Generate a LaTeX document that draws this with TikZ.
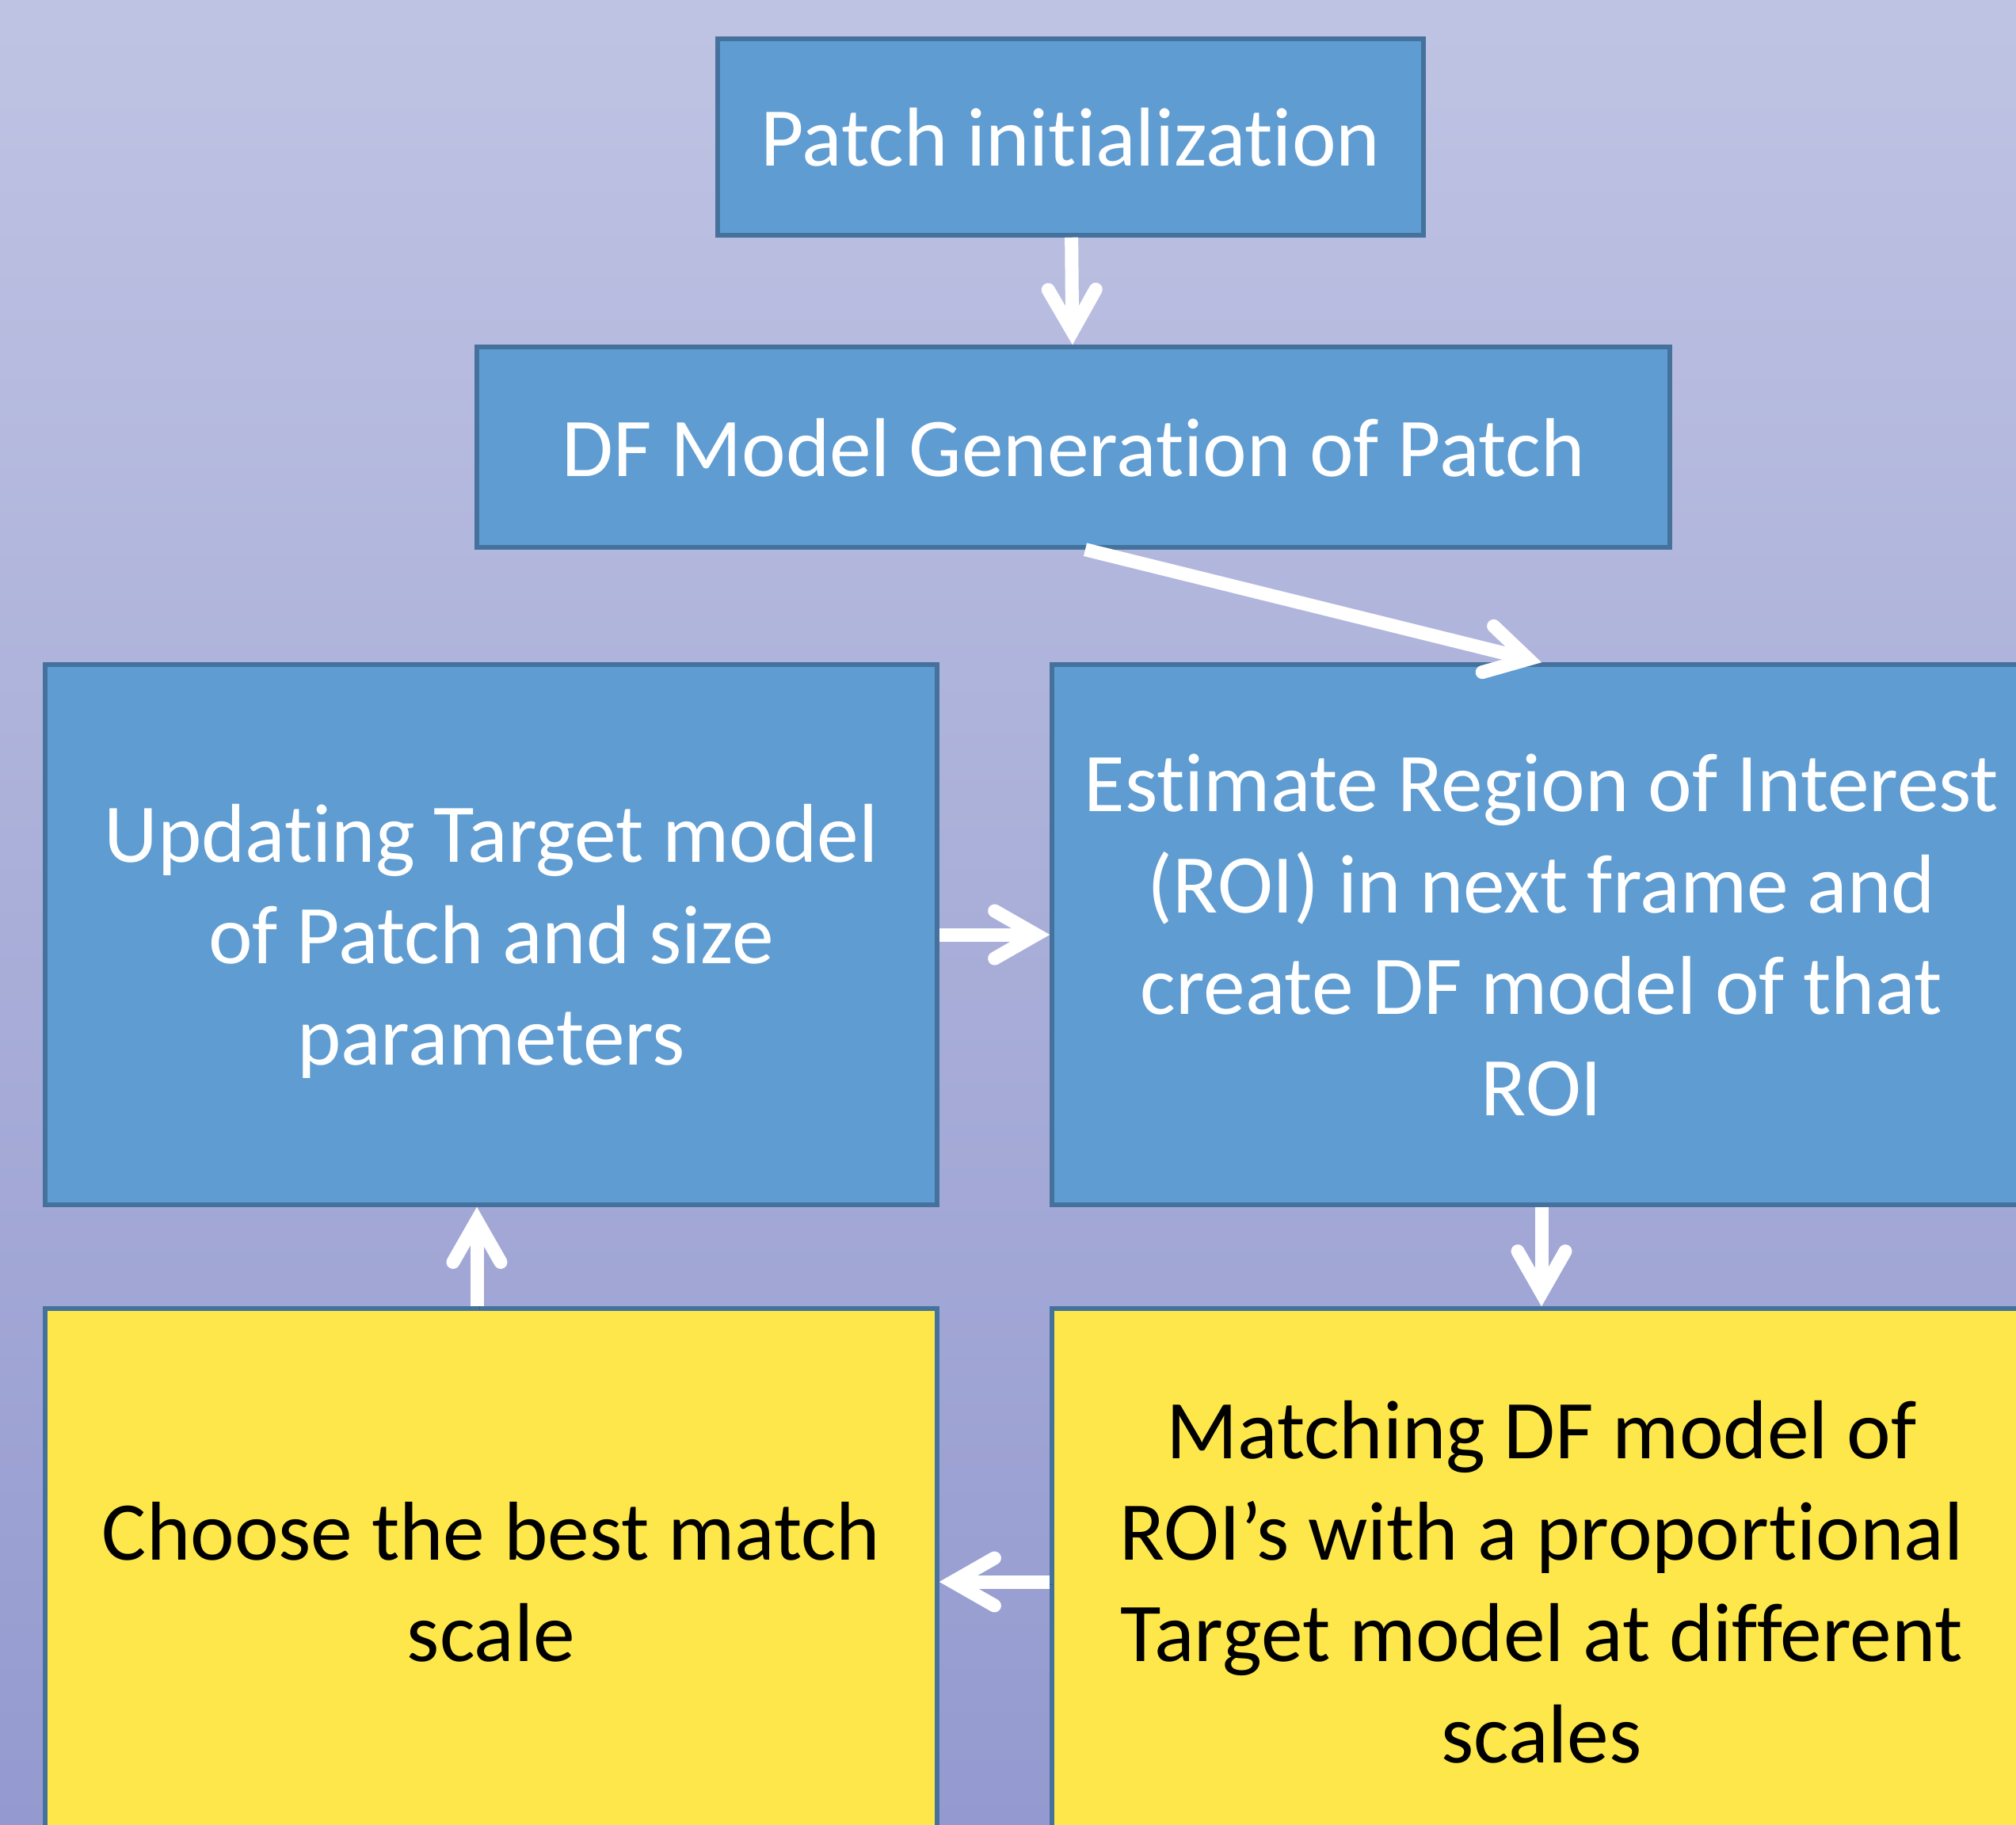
\documentclass[tikz,border=0pt]{standalone}
\usepackage{fontspec}
\setmainfont[Ligatures={NoCommon}]{Carlito}
\usetikzlibrary{arrows.meta}
\usepackage{xcolor}
\definecolor{bgtop}{HTML}{BFC3E3}
\definecolor{bgbot}{HTML}{949ACF}
\definecolor{boxblue}{HTML}{5F9CD1}
\definecolor{boxline}{HTML}{44729C}
\definecolor{boxyellow}{HTML}{FEE74A}

\tikzset{
	stepblue/.style={draw=boxline, line width=0.11cm, fill=boxblue, text=white,
		align=center, inner sep=0pt, text depth=0pt,
		font=\fontsize{60pt}{72.8pt}\selectfont},
	stepyellow/.style={stepblue, fill=boxyellow, text=black},
	flow/.style={draw=white, line width=0.34cm,
		-{Straight Barb[line cap=round,line join=miter,length=1.05cm,width=1.2cm]},
		preaction={draw=black, opacity=0.16, transform canvas={xshift=0.07cm,yshift=-0.07cm}}}
}

\begin{document}
\begin{tikzpicture}
	\useasboundingbox (0,0) rectangle (50.9,-46.06);
	\clip (0,0) rectangle (50.9,-46.06);
	\shade[top color=bgtop, bottom color=bgbot] (0,0) rectangle (50.9,-46.06);
	
	\node[stepblue, minimum width=17.82cm, minimum height=4.96cm] at (27.03,-3.46) (patch)
	{Patch initialization};
	\node[stepblue, minimum width=30.12cm, minimum height=5.06cm] at (27.1,-11.29) (df)
	{DF Model Generation of Patch};
	
	\node[stepblue, minimum width=22.52cm, minimum height=13.64cm] at (12.4,-23.6) (upd)
	{Updating Target model\\of Patch and size\\parameters};
	\node[stepblue, minimum width=24.72cm, minimum height=13.64cm] at (38.92,-23.6) (est)
	{Estimate Region of Interest\\(ROI) in next frame and\\create DF model of that\\ROI};
	
	\node[stepyellow, minimum width=22.52cm, minimum height=13.8cm] at (12.4,-39.94) (choose)
	{Choose the best match\\scale};
	\node[stepyellow, minimum width=24.72cm, minimum height=13.8cm] at (38.92,-39.94) (match)
	{Matching DF model of\\ROI’s with a proportional\\Target model at different\\scales};
	
	\draw[flow] (patch) -- (df);
	\draw[flow] ([xshift=0.3cm]df.south) -- (est.north);
	\draw[flow] (upd) -- (est);
	\draw[flow] (est) -- (match);
	\draw[flow] (match) -- (choose);
	\draw[flow] ([xshift=-0.36cm]choose.north) -- ([xshift=-0.36cm]upd.south);
\end{tikzpicture}
\end{document}
